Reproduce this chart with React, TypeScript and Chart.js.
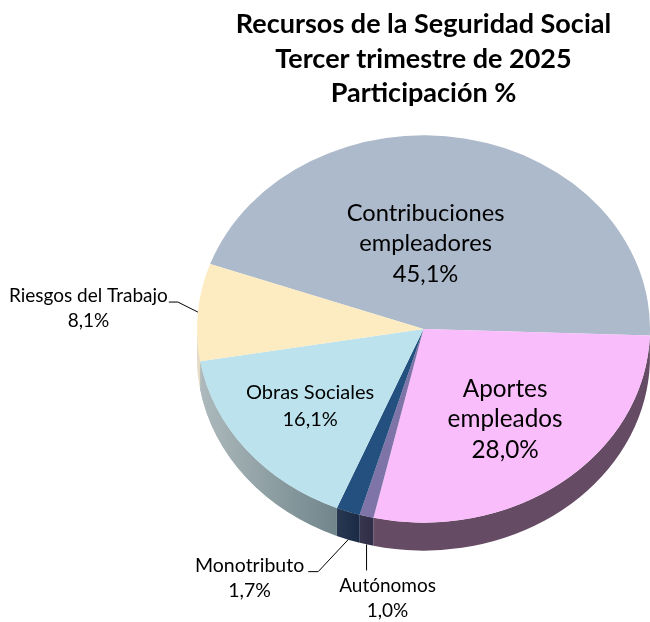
import { useEffect, useRef } from "react";
import { Chart, registerables } from "chart.js";

Chart.register(...registerables);

// ---------------- data ----------------
const categories = [
  "Contribuciones empleadores",
  "Aportes empleados",
  "Autónomos",
  "Monotributo",
  "Obras Sociales",
  "Riesgos del Trabajo",
];
const shares = [45.1, 28.0, 1.0, 1.7, 16.1, 8.1];
const labelLines: string[][] = [
  ["Contribuciones", "empleadores"],
  ["Aportes", "empleados"],
  ["Autónomos"],
  ["Monotributo"],
  ["Obras Sociales"],
  ["Riesgos del Trabajo"],
];
const titleLines = [
  "Recursos de la Seguridad Social",
  "Tercer trimestre de 2025",
  "Participación %",
];

// ---------------- style ----------------
const FONT = "Lato";
const TOP_COLORS = ["#ADBACB", "#FABDFB", "#7F74A7", "#23507F", "#BCE3ED", "#FDEBC2"];
const SIDE_COLORS = ["#7D8796", "#654B64", "#2D2A44", "#0E1F3B", "#5E767C", "#CDB78E"];
const ROTATION = -70.4;
const TILT = 0.855;
const PIE_CY = 329;
const DEPTH = 28;

type LabelStyle = {
  kind: "inside" | "outside";
  f?: number;
  dx?: number;
  dy?: number;
  ex?: number;
  ey?: number;
  hx?: number;
  place?: "left" | "below";
  tx?: number;
  ty?: number;
  size: number;
  lh: number;
};

const LABEL_STYLES: LabelStyle[] = [
  { kind: "inside", f: 0.45, dx: -17, dy: 0, size: 23.7, lh: 30.5 },
  { kind: "inside", f: 0.59, dx: 0, dy: 0, size: 24.3, lh: 30.5 },
  { kind: "outside", ex: 0, ey: 26, hx: 0, place: "below", tx: 21, ty: 15, size: 19, lh: 25 },
  { kind: "outside", ex: -30, ey: 32, hx: -10, place: "left", tx: -4, ty: -6, size: 19.5, lh: 25 },
  { kind: "inside", f: 0.64, dx: 0, dy: 0, size: 20, lh: 27 },
  { kind: "outside", ex: -20, ey: -10, hx: -9, place: "left", tx: -1, ty: -6, size: 19, lh: 25 },
];

function fmtPct(v: number) {
  return v.toFixed(1).replace(".", ",") + "%";
}

function pieGeom(chart: any) {
  const meta = chart.getDatasetMeta(0);
  const a0 = meta.data[0] as any;
  const R = a0.outerRadius;
  return { ox: a0.x, oy: a0.y, cx: a0.x, cy: PIE_CY, rx: R, ry: R * TILT, arcs: meta.data as any[] };
}

const pie3d = {
  id: "pie3d",
  beforeDatasetsDraw(chart: any) {
    const ctx: CanvasRenderingContext2D = chart.ctx;
    const g = pieGeom(chart);
    g.arcs.forEach((arc: any, i: number) => {
      const s = arc.startAngle;
      const e = arc.endAngle;
      for (let k = -2; k <= 2; k++) {
        const lo = Math.max(s, 2 * Math.PI * k);
        const hi = Math.min(e, 2 * Math.PI * k + Math.PI);
        if (hi <= lo) continue;
        ctx.save();
        ctx.beginPath();
        ctx.ellipse(g.cx, g.cy, g.rx, g.ry, 0, lo, hi, false);
        ctx.ellipse(g.cx, g.cy + DEPTH, g.rx, g.ry, 0, hi, lo, true);
        ctx.closePath();
        ctx.fillStyle = SIDE_COLORS[i];
        ctx.fill();
        const grad = ctx.createLinearGradient(g.cx - g.rx, 0, g.cx + g.rx, 0);
        grad.addColorStop(0, "rgba(255,255,255,0.5)");
        grad.addColorStop(0.4, "rgba(255,255,255,0)");
        grad.addColorStop(1, "rgba(255,255,255,0)");
        ctx.fillStyle = grad;
        ctx.fill();
        ctx.restore();
      }
    });
    ctx.save();
    ctx.translate(g.cx, g.cy);
    ctx.scale(1, TILT);
    ctx.translate(-g.ox, -g.oy);
  },
  afterDatasetsDraw(chart: any) {
    chart.ctx.restore();
  },
  afterDraw(chart: any) {
    const ctx: CanvasRenderingContext2D = chart.ctx;
    const g = pieGeom(chart);
    ctx.save();
    ctx.fillStyle = "#000";
    ctx.strokeStyle = "#000";
    ctx.lineWidth = 1;
    ctx.textAlign = "center";
    ctx.textBaseline = "middle";
    g.arcs.forEach((arc: any, i: number) => {
      const st = LABEL_STYLES[i];
      const mid = (arc.startAngle + arc.endAngle) / 2;
      const c = Math.cos(mid);
      const sn = Math.sin(mid);
      const lines = [...labelLines[i], fmtPct(shares[i])];
      ctx.font = `${st.size}px ${FONT}`;
      if (st.kind === "inside") {
        const px = g.cx + (st.f || 0) * g.rx * c + (st.dx || 0);
        const py = g.cy + (st.f || 0) * g.ry * sn + (st.dy || 0);
        lines.forEach((t, j) => {
          ctx.fillText(t, px, py + (j - (lines.length - 1) / 2) * st.lh);
        });
      } else {
        const ax = g.cx + g.rx * c;
        const ay = g.cy + g.ry * sn + (sn > 0 ? DEPTH : 0);
        const bx = ax + (st.ex || 0);
        const by = ay + (st.ey || 0);
        const ex = bx + (st.hx || 0);
        ctx.beginPath();
        ctx.moveTo(ax, ay);
        ctx.lineTo(bx, by);
        ctx.lineTo(ex, by);
        ctx.stroke();
        const maxW = Math.max(...lines.map((t) => ctx.measureText(t).width));
        const bcx = st.place === "left" ? ex + (st.tx || 0) - maxW / 2 : ex + (st.tx || 0);
        lines.forEach((t, j) => {
          ctx.fillText(t, bcx, by + (st.ty || 0) + j * st.lh);
        });
      }
    });
    ctx.restore();
  },
};

export default function App() {
  const ref = useRef<HTMLCanvasElement>(null);
  useEffect(() => {
    document.body.style.margin = "0";
    const chart = new Chart(ref.current!, {
      type: "pie",
      data: {
        labels: categories,
        datasets: [
          {
            data: shares,
            backgroundColor: TOP_COLORS,
            borderWidth: 0,
            clip: false as any,
          },
        ],
      },
      options: {
        responsive: false,
        animation: false,
        devicePixelRatio: 1,
        rotation: ROTATION,
        events: [],
        layout: { padding: { left: 197, right: 0, top: 0, bottom: 0 } },
        plugins: {
          legend: { display: false },
          tooltip: { enabled: false },
          title: {
            display: true,
            text: titleLines,
            color: "#000",
            font: { family: FONT, size: 27, weight: "bold", lineHeight: 1.28 },
            padding: { top: 7, bottom: 8 },
          },
        },
      },
      plugins: [pie3d],
    });
    return () => chart.destroy();
  }, []);
  return (
    <div style={{ width: 650, height: 622, background: "#fff" }}>
      <canvas ref={ref} width={650} height={622} />
    </div>
  );
}
